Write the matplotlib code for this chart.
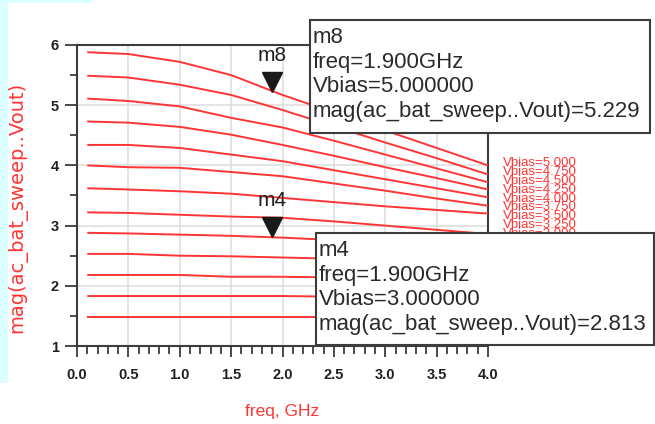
import numpy as np
import matplotlib
matplotlib.use('Agg')
import matplotlib.pyplot as plt
from matplotlib.patches import Rectangle
from matplotlib.ticker import MultipleLocator, FormatStrFormatter

# Data
freq = [0.1, 0.5, 1.0, 1.5, 2.0, 2.5, 3.0, 3.5, 4.0]
vbias = [5.0, 4.75, 4.5, 4.25, 4.0, 3.75, 3.5, 3.25, 3.0, 2.75, 2.5, 2.25, 2.0]
vout_500 = [5.88, 5.85, 5.72, 5.50, 5.17, 4.88, 4.58, 4.29, 4.00]
vout_475 = [5.49, 5.46, 5.34, 5.17, 4.92, 4.65, 4.38, 4.12, 3.85]
vout_450 = [5.11, 5.07, 4.98, 4.79, 4.63, 4.41, 4.18, 3.95, 3.72]
vout_425 = [4.73, 4.71, 4.64, 4.51, 4.34, 4.16, 3.97, 3.79, 3.60]
vout_400 = [4.34, 4.34, 4.29, 4.18, 4.07, 3.92, 3.77, 3.62, 3.47]
vout_375 = [4.00, 3.97, 3.96, 3.89, 3.82, 3.70, 3.58, 3.45, 3.33]
vout_350 = [3.62, 3.60, 3.57, 3.53, 3.46, 3.39, 3.32, 3.26, 3.20]
vout_325 = [3.22, 3.21, 3.18, 3.15, 3.13, 3.07, 3.00, 2.93, 2.86]
vout_300 = [2.88, 2.87, 2.85, 2.83, 2.80, 2.76, 2.72, 2.68, 2.64]
vout_275 = [2.53, 2.53, 2.50, 2.49, 2.47, 2.45, 2.43, 2.41, 2.39]
vout_250 = [2.18, 2.18, 2.18, 2.15, 2.15, 2.14, 2.13, 2.12, 2.11]
vout_225 = [1.83, 1.83, 1.83, 1.83, 1.83, 1.82, 1.82, 1.81, 1.81]
vout_200 = [1.49, 1.49, 1.49, 1.49, 1.49, 1.49, 1.49, 1.49, 1.49]
curves = [vout_500, vout_475, vout_450, vout_425, vout_400, vout_375, vout_350,
          vout_325, vout_300, vout_275, vout_250, vout_225, vout_200]

# markers: name, freq, vbias, value
markers = [('m8', 1.9, 5.0, 5.229), ('m4', 1.9, 3.0, 2.813)]

W, H = 655, 424
RED = '#ff3535'
DARK = '#3c3c3c'

plt.rcParams['font.family'] = ['Liberation Sans', 'DejaVu Sans']

fig = plt.figure(figsize=(W / 100, H / 100), dpi=100)
fig.patch.set_facecolor('white')

# light cyan strips of the screenshot background
fig.add_artist(Rectangle((0, 1 - 383 / H), 8 / W, 383 / H, transform=fig.transFigure,
                         facecolor='#dcffff', edgecolor='none', zorder=0))
fig.add_artist(Rectangle((0, 1 - 3 / H), 92 / W, 3 / H, transform=fig.transFigure,
                         facecolor='#dcffff', edgecolor='none', zorder=0))

ax = fig.add_axes([77 / W, 1 - 346 / H, 411 / W, 301 / H])
ax.set_xlim(0, 4)
ax.set_ylim(1, 6)

for c in curves:
    ax.plot(freq, c, color=RED, linewidth=1.4, solid_capstyle='butt', zorder=3)

# grid
ax.xaxis.set_major_locator(MultipleLocator(0.5))
ax.xaxis.set_minor_locator(MultipleLocator(0.1))
ax.yaxis.set_major_locator(MultipleLocator(1))
ax.yaxis.set_minor_locator(MultipleLocator(0.5))
ax.xaxis.set_major_formatter(FormatStrFormatter('%.1f'))
ax.grid(True, which='major', color='#dcdcdc', linewidth=1.1, zorder=0)
ax.set_axisbelow(True)

for s in ax.spines.values():
    s.set_color(DARK)
    s.set_linewidth(1.5)

ax.tick_params(axis='x', which='major', length=8, width=1.3, color=DARK, pad=8,
               labelsize=10.5, labelcolor='#202020')
ax.tick_params(axis='x', which='minor', length=6, width=1.3, color=DARK)
ax.tick_params(axis='y', which='major', length=9, width=1.3, color=DARK, pad=4,
               labelsize=10.5, labelcolor='#202020')
ax.tick_params(axis='y', which='minor', length=5, width=1.3, color=DARK)
for lab in ax.get_xticklabels() + ax.get_yticklabels():
    lab.set_fontweight('bold')

ax.set_xlabel('freq, GHz', color=RED, fontsize=12.5, labelpad=16)
ax.set_ylabel('mag(ac_bat_sweep..Vout)', color=RED, fontsize=14, labelpad=24,
              family='DejaVu Sans')
ax.yaxis.set_label_coords(-50 / 411, 0.46)

# stacked series labels at the right
for i, v in enumerate(vbias):
    ax.annotate('Vbias=%.3f' % v, xy=(1.0, 1.0), xycoords='axes fraction',
                xytext=(11, -85 - i * 6.4), textcoords='offset points',
                color=RED, fontsize=9.5, va='center', ha='left',
                annotation_clip=False)

# markers
for name, f, vb, val in markers:
    ax.plot([f], [val], marker='v', markersize=14, color='#1a1a1a', linestyle='none',
            transform=ax.transData + matplotlib.transforms.ScaledTranslation(0, 9.5 / 100, fig.dpi_scale_trans),
            zorder=5, clip_on=False)
    ax.annotate(name, xy=(f, val), xytext=(0, 19), textcoords='offset points',
                ha='center', va='bottom', fontsize=15, color='#202020')

# marker readout boxes
def readout(x0, y0, x1, y1, name, f, vb, val):
    fig.add_artist(Rectangle((x0 / W, 1 - y1 / H), (x1 - x0) / W, (y1 - y0) / H,
                             transform=fig.transFigure, facecolor='white',
                             edgecolor=DARK, linewidth=1.5, zorder=10))
    lines = [name, 'freq=%.3fGHz' % f, 'Vbias=%.6f' % vb,
             'mag(ac_bat_sweep..Vout)=%.3f' % val]
    for k, t in enumerate(lines):
        fig.text((x0 + 3) / W, 1 - (y0 + 23 + k * 24.7) / H, t, fontsize=16,
                 color='#2a2a2a', ha='left', va='baseline', zorder=11)

readout(310, 20, 650, 133, *markers[0])
readout(316, 233, 654, 345, *markers[1])

fig.savefig('out.png', dpi=100, facecolor='white')
